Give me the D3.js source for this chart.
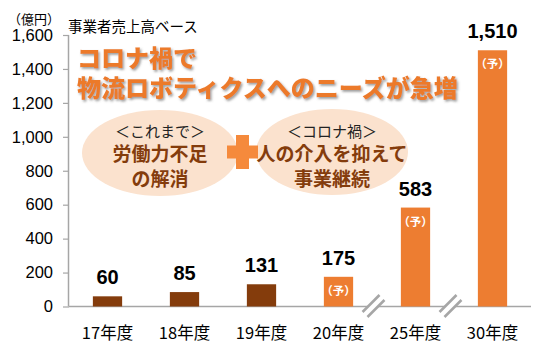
<!DOCTYPE html>
<html><head><meta charset="utf-8">
<script src="https://cdn.jsdelivr.net/npm/d3@7"></script>
<style>body{margin:0;background:#fff;}svg{display:block;}</style>
</head><body>
<script>
const categories = ["17年度","18年度","19年度","20年度","25年度","30年度"];
const values = [60, 85, 131, 175, 583, 1510];
const forecast = [false, false, false, true, true, true];
const yTicks = [0, 200, 400, 600, 800, 1000, 1200, 1400, 1600];
const titleLines = ["コロナ禍で", "物流ロボティクスへのニーズが急増"];
const leftBubble = ["＜これまで＞", "労働力不足", "の解消"];
const rightBubble = ["＜コロナ禍＞", "人の介入を抑えて", "事業継続"];
const unitLabel = "（億円）";
const baseLabel = "事業者売上高ベース";

const W = 550, H = 350;
const svg = d3.select("body").append("svg").attr("width", W).attr("height", H);
const numFont = "'Liberation Sans', Arial, sans-serif";
const jpFont = "'Noto Sans CJK JP', sans-serif";
const gray = "#A6A6A6";
const brown = "#843C0C", orange = "#ED7D31";

const defs = svg.append("defs");
const f = defs.append("filter").attr("id","sh").attr("x","-10%").attr("y","-20%").attr("width","130%").attr("height","160%");
f.append("feDropShadow").attr("dx",1.5).attr("dy",1.8).attr("stdDeviation",1.1).attr("flood-color","#6b6b6b").attr("flood-opacity",0.65);

const y = d3.scaleLinear().domain([0,1600]).range([306.5, 35]);
const x = d3.scaleBand().domain(categories).range([69, 531]).paddingInner(0.62).paddingOuter(0.31);

// y axis
const ya = svg.append("g").attr("transform","translate(69,0)")
  .call(d3.axisLeft(y).tickValues(yTicks).tickSize(6).tickPadding(10).tickFormat(d3.format(",")));
ya.select(".domain").attr("stroke", gray).attr("stroke-width",1.5).attr("d","M-0.5,35V306.5");
ya.selectAll(".tick line").attr("stroke", gray).attr("stroke-width",1.2);
ya.selectAll(".tick text").attr("font-family", numFont).attr("font-size", 16.5).attr("fill","#000");

// x axis line
svg.append("line").attr("x1",69).attr("x2",531).attr("y1",306.5).attr("y2",306.5).attr("stroke",gray).attr("stroke-width",1.5);

// bars
svg.selectAll("rect.bar").data(values).join("rect").attr("class","bar")
  .attr("x",(d,i)=>x(categories[i])).attr("width",x.bandwidth())
  .attr("y",d=>y(d)).attr("height",d=>y(0)-y(d))
  .attr("fill",(d,i)=>forecast[i]?orange:brown);

// value labels
svg.selectAll("text.val").data(values).join("text").attr("class","val")
  .attr("x",(d,i)=>x(categories[i])+x.bandwidth()/2).attr("y",d=>y(d)-12)
  .attr("text-anchor","middle").attr("font-family",numFont).attr("font-weight","bold").attr("font-size",20)
  .attr("fill","#000").text(d=>d3.format(",")(d));

// (予) labels
svg.selectAll("text.fc").data(values.filter((d,i)=>forecast[i])).join("text").attr("class","fc")
  .attr("x",(d,i)=>x(categories[i+3])+x.bandwidth()/2).attr("y",d=>y(d)+13)
  .attr("dominant-baseline","central").attr("text-anchor","middle").attr("font-family",jpFont)
  .attr("font-weight","bold").attr("font-size",11.5).attr("fill","#fff").text("（予）");

// category labels
svg.selectAll("text.cat").data(categories).join("text").attr("class","cat")
  .attr("x",d=>x(d)+x.bandwidth()/2).attr("y",332).attr("dominant-baseline","central")
  .attr("text-anchor","middle").attr("font-family",jpFont).attr("font-size",16.5).attr("fill","#000").text(d=>d);

// break marks
[[3,4],[4,5]].forEach(([a,b])=>{
  const cx = (x(categories[a])+x.bandwidth()+x(categories[b]))/2 - 3.5;
  const cy = 306;
  const g = svg.append("g").attr("transform",`translate(${cx},${cy}) rotate(-45)`);
  g.append("rect").attr("x",-12).attr("y",-3.5).attr("width",24).attr("height",7).attr("fill","#fff");
  g.append("line").attr("x1",-12).attr("x2",12).attr("y1",-3.5).attr("y2",-3.5).attr("stroke",gray).attr("stroke-width",2.6);
  g.append("line").attr("x1",-12).attr("x2",12).attr("y1",3.5).attr("y2",3.5).attr("stroke",gray).attr("stroke-width",2.6);
});

// units
svg.append("text").attr("x",8).attr("y",18).attr("dominant-baseline","central").attr("font-family",jpFont)
  .attr("font-size",13).attr("fill","#000").text(unitLabel);
svg.append("text").attr("x",68).attr("y",25).attr("dominant-baseline","central").attr("font-family",jpFont)
  .attr("font-size",14.5).attr("fill","#000").text(baseLabel);

// bubbles
const bubbles = [{cx:160, cy:153, rx:78, ry:43, lines:leftBubble},{cx:332, cy:152, rx:76, ry:43, lines:rightBubble}];
svg.selectAll("ellipse.b").data(bubbles).join("ellipse").attr("class","b")
  .attr("cx",d=>d.cx).attr("cy",d=>d.cy).attr("rx",d=>d.rx).attr("ry",d=>d.ry).attr("fill","#FBE2CE");
bubbles.forEach(b=>{
  svg.append("text").attr("x",b.cx).attr("y",130).attr("text-anchor","middle").attr("dominant-baseline","central")
    .attr("font-family",jpFont).attr("font-size",15).attr("fill","#222").text(b.lines[0]);
  svg.append("text").attr("x",b.cx).attr("y",152.5).attr("text-anchor","middle").attr("dominant-baseline","central")
    .attr("font-family",jpFont).attr("font-weight","bold").attr("font-size",19).attr("fill",brown).text(b.lines[1]);
  svg.append("text").attr("x",b.cx).attr("y",177).attr("text-anchor","middle").attr("dominant-baseline","central")
    .attr("font-family",jpFont).attr("font-weight","bold").attr("font-size",19).attr("fill",brown).text(b.lines[2]);
});

// plus sign
svg.append("rect").attr("x",227).attr("y",145.5).attr("width",31).attr("height",13).attr("fill","#F58A3C");
svg.append("rect").attr("x",236).attr("y",135).attr("width",13).attr("height",34).attr("fill","#F58A3C");

// title (one text block, two lines)
const title = svg.append("text").attr("font-family",jpFont).attr("font-weight","900").attr("font-size",24)
  .attr("fill","#EC7A2C").attr("filter","url(#sh)");
titleLines.forEach((t,i)=>{
  title.append("tspan").attr("x",77).attr("y",56+i*30).attr("dominant-baseline","central").text(t);
});
</script>
</body></html>
